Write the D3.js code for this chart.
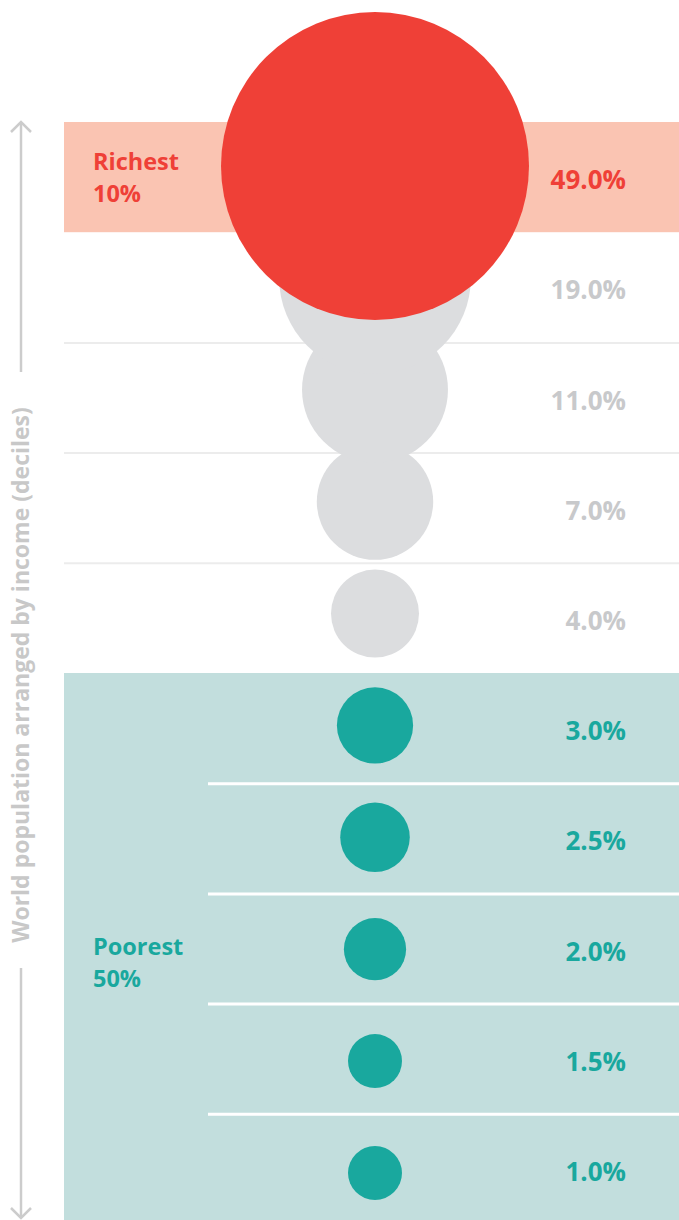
<!DOCTYPE html>
<html>
<head>
<meta charset="utf-8">
<script src="https://cdn.jsdelivr.net/npm/d3@7"></script>
<style>
  html, body { margin: 0; padding: 0; background: #fff; }
  svg { display: block; }
  text { font-family: "Open Sans", "DejaVu Sans", sans-serif; font-weight: 700; }
</style>
</head>
<body>
<svg id="chart"></svg>
<script>
// deciles, richest first
const deciles = ['D10', 'D9', 'D8', 'D7', 'D6', 'D5', 'D4', 'D3', 'D2', 'D1'];
const shares = [49.0, 19.0, 11.0, 7.0, 4.0, 3.0, 2.5, 2.0, 1.5, 1.0];
const groups = ['rich', 'mid', 'mid', 'mid', 'mid', 'poor', 'poor', 'poor', 'poor', 'poor'];
const groupLabels = [
    { group: 'rich', lines: ['Richest', '10%'] },
    { group: 'poor', lines: ['Poorest', '50%'] },
];
const axisTitle = 'World population arranged by income (deciles)';

const W = 679, H = 1220;
const COLORS = {
    rich: { band: '#fac4b2', dot: '#ef4037', text: '#ef4037' },
    mid:  { band: '#ffffff', dot: '#dcdddf', text: '#c8c9cb' },
    poor: { band: '#c2dedd', dot: '#19a89e', text: '#19a89e' },
};

const svg = d3.select('#chart').attr('width', W).attr('height', H);

// Row bands
const y = d3.scaleBand()
    .domain(deciles)
    .range([122, 122 + 110.2 * 10]);

// Circle centres sit on their own slightly wider spacing
const cy = d3.scalePoint()
    .domain(deciles)
    .range([166, 1173]);

const r = d3.scaleSqrt()
    .domain([0, 49])
    .range([0, 154]);
const rMin = 27;

const bandX = 64, cx = 375;

// Background bands
const runs = [
    { group: 'rich', from: 0, to: 0 },
    { group: 'poor', from: 5, to: 9 },
];
svg.selectAll('.band')
    .data(runs)
    .enter()
    .append('rect')
    .attr('x', bandX)
    .attr('y', d => y(deciles[d.from]))
    .attr('width', W - bandX)
    .attr('height', d => d.to === 9 ? H - y(deciles[d.from]) : y(deciles[d.to]) + y.bandwidth() - y(deciles[d.from]))
    .attr('fill', d => COLORS[d.group].band);

// Separators
svg.selectAll('.sep')
    .data(deciles.slice(1))
    .enter()
    .append('line')
    .attr('x1', (d, i) => groups[i + 1] === 'poor' ? 208 : bandX)
    .attr('x2', W)
    .attr('y1', d => y(d) + 0.5)
    .attr('y2', d => y(d) + 0.5)
    .attr('stroke', (d, i) => groups[i + 1] === 'poor' ? '#ffffff' : '#ececec')
    .attr('stroke-width', (d, i) => groups[i + 1] === 'poor' ? 3 : 2)
    .attr('display', (d, i) => (groups[i + 1] === 'poor' && groups[i] !== 'poor') || i === 0 ? 'none' : null);

// Circles, drawn bottom up so the richest sits on top
const rows = deciles.map((d, i) => ({ id: d, share: shares[i], group: groups[i] }));
svg.selectAll('.dot')
    .data(rows.slice().reverse())
    .enter()
    .append('circle')
    .attr('cx', cx)
    .attr('cy', d => cy(d.id))
    .attr('r', d => Math.max(r(d.share), rMin))
    .attr('fill', d => COLORS[d.group].dot);

// Value labels
svg.selectAll('.val')
    .data(rows)
    .enter()
    .append('text')
    .attr('x', 626)
    .attr('y', d => y(d.id) + y.bandwidth() / 2 + 12)
    .attr('text-anchor', 'end')
    .attr('font-size', '26px')
    .attr('fill', d => COLORS[d.group].text)
    .text(d => `${d.share.toFixed(1)}%`);

// Group labels
const gl = svg.selectAll('.glabel')
    .data(groupLabels)
    .enter()
    .append('text')
    .attr('x', 93)
    .attr('y', d => d.group === 'rich' ? 170 : 955)
    .attr('font-size', '23.5px')
    .attr('fill', d => COLORS[d.group].text);
gl.selectAll('tspan')
    .data(d => d.lines)
    .enter()
    .append('tspan')
    .attr('x', 93)
    .attr('dy', (d, i) => i === 0 ? 0 : 32)
    .text(d => d);

// Vertical axis with arrows
const axisX = 21, midY = 675;
const ax = svg.append('g').attr('stroke', '#cccccc').attr('stroke-width', 2.5).attr('fill', 'none');
ax.append('line').attr('x1', axisX).attr('x2', axisX).attr('y1', 122).attr('y2', 372);
ax.append('path').attr('d', `M${axisX - 10},${132} L${axisX},${122} L${axisX + 10},${132}`);
ax.append('line').attr('x1', axisX).attr('x2', axisX).attr('y1', 968).attr('y2', 1218);
ax.append('path').attr('d', `M${axisX - 10},${1208} L${axisX},${1218} L${axisX + 10},${1208}`);

svg.append('text')
    .attr('transform', `translate(${axisX + 8},${midY}) rotate(-90)`)
    .attr('text-anchor', 'middle')
    .attr('font-size', '23px')
    .attr('fill', '#c8c8c8')
    .text(axisTitle);
</script>
</body>
</html>
